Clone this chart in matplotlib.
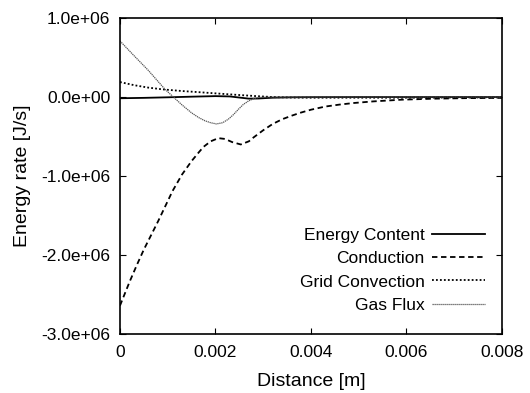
import numpy as np
import matplotlib
matplotlib.rcParams['font.family'] = ['Liberation Sans', 'DejaVu Sans']
import matplotlib.pyplot as plt

# values (x in m, y in J/s)
x_energy = [0, 0.0005, 0.001, 0.0015, 0.002, 0.0023, 0.0025, 0.0027, 0.0029, 0.0032, 0.0036, 0.004, 0.005, 0.006, 0.007, 0.008]
y_energy = [-0.015e6, -0.01e6, -0.003e6, 0.005e6, 0.012e6, 0.008e6, -0.006e6, -0.02e6, -0.018e6, -0.008e6, -0.003e6, -0.001e6, 0, 0, 0, 0]

x_cond = [0, 0.0001, 0.0002, 0.00035, 0.0005, 0.00065, 0.0008, 0.00095, 0.0011, 0.0013, 0.0015, 0.00165, 0.00175,
          0.0019, 0.00206, 0.0022, 0.00235, 0.00253, 0.0027, 0.0028, 0.0030, 0.0032, 0.0034, 0.0036, 0.00377,
          0.004, 0.0043, 0.0046, 0.0049, 0.0053, 0.0059, 0.0066, 0.0073, 0.008]
y_cond = [-2.64e6, -2.49e6, -2.34e6, -2.13e6, -1.93e6, -1.75e6, -1.57e6, -1.38e6, -1.19e6, -0.98e6, -0.81e6, -0.7e6, -0.63e6,
          -0.56e6, -0.52e6, -0.53e6, -0.57e6, -0.6e6, -0.56e6, -0.51e6, -0.42e6, -0.34e6, -0.28e6, -0.235e6, -0.2e6,
          -0.16e6, -0.12e6, -0.095e6, -0.075e6, -0.055e6, -0.033e6, -0.02e6, -0.013e6, -0.01e6]

x_grid = [0, 0.0003, 0.00059, 0.0009, 0.00129, 0.0017, 0.002, 0.0024, 0.00283, 0.0032, 0.0036, 0.004, 0.005, 0.006, 0.007, 0.008]
y_grid = [0.19e6, 0.15e6, 0.12e6, 0.097e6, 0.077e6, 0.06e6, 0.047e6, 0.03e6, 0.013e6, 0.0, -0.006e6, -0.008e6, -0.008e6, -0.008e6, -0.006e6, -0.005e6]

x_gas = [0, 0.0003, 0.00059, 0.00094, 0.00112, 0.0013, 0.0015, 0.00165, 0.00178, 0.0019, 0.00202, 0.00215,
         0.00227, 0.00238, 0.00248, 0.00258, 0.00269, 0.0028, 0.0029, 0.0031, 0.0035, 0.004, 0.005, 0.006, 0.008]
y_gas = [0.71e6, 0.52e6, 0.34e6, 0.1e6, 0.0, -0.1e6, -0.2e6, -0.26e6, -0.3e6, -0.325e6, -0.34e6, -0.325e6,
         -0.28e6, -0.22e6, -0.155e6, -0.095e6, -0.05e6, -0.02e6, -0.005e6, 0.0, 0.0, 0.0, 0.0, 0.0, 0.0]

fig = plt.figure(figsize=(5.3, 3.93), dpi=100)
ax = fig.add_axes([0.2264, 0.150, 0.7206, 0.804])

ax.plot(x_energy, y_energy, color='black', lw=1.3, label='Energy Content')
ax.plot(x_cond, y_cond, color='black', lw=1.3, linestyle=(0, (3, 2)), label='Conduction')
ax.plot(x_grid, y_grid, color='black', lw=1.3, linestyle=(0, (1, 1.2)), label='Grid Convection')
ax.plot(x_gas, y_gas, color='#555555', lw=0.9, linestyle=(0, (1, 0.6)), label='Gas Flux')

ax.set_xlim(0, 0.008)
ax.set_ylim(-3e6, 1e6)
ax.set_xticks([0, 0.002, 0.004, 0.006, 0.008])
ax.set_xticklabels(['0', '0.002', '0.004', '0.006', '0.008'])
yt = [-3e6, -2e6, -1e6, 0, 1e6]
ax.set_yticks(yt)
ax.set_yticklabels(['-3.0e+06', '-2.0e+06', '-1.0e+06', '0.0e+00', '1.0e+06'])
ax.tick_params(direction='in', top=True, right=True, labelsize=12.5, length=4, pad=7)
ax.tick_params(axis='x', pad=8)
for s in ax.spines.values():
    s.set_linewidth(1.2)

ax.set_xlabel('Distance [m]', fontsize=14, labelpad=9)
ax.set_ylabel('Energy rate [J/s]', fontsize=14, labelpad=7)

leg = ax.legend(loc='lower right', frameon=False, markerfirst=False, fontsize=12.5,
                handlelength=3.1, handletextpad=0.4, labelspacing=0.47, borderaxespad=0,
                bbox_to_anchor=(0.975, 0.045))
for t in leg.get_texts():
    t.set_ha('right')

fig.savefig('out.png', dpi=100)
